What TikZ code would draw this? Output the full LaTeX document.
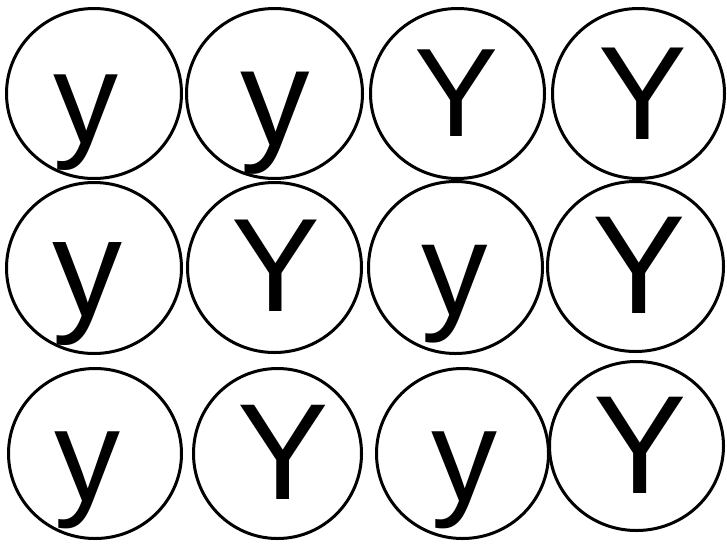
\documentclass[tikz,border=0pt]{standalone}
\usepackage{fontspec}
\setmainfont{Liberation Sans}
\usetikzlibrary{shapes.geometric}
\tikzset{
  ring/.style={draw=black, line width=3pt, ellipse, inner sep=0pt, fill=white},
  glyph/.style={anchor=north, inner sep=0pt, outer sep=0pt, text=black}
}
\newcommand{\glyphsize}[1]{\fontsize{#1}{#1}\selectfont}
\begin{document}
\begin{tikzpicture}[x=1pt,y=-1pt]
\useasboundingbox (0,0) rectangle (727,544);
% row 1
\node[ring, minimum width=175pt, minimum height=170pt] (c11) at (94,93.5) {};
\node[ring, minimum width=176pt, minimum height=170pt] (c12) at (274.5,93.5) {};
\node[ring, minimum width=174pt, minimum height=170pt] (c13) at (457.5,93.5) {};
\node[ring, minimum width=172pt, minimum height=170pt] (c14) at (638.5,93.5) {};
% row 2
\node[ring, minimum width=175pt, minimum height=171pt] (c21) at (94,268) {};
\node[ring, minimum width=174pt, minimum height=170pt] (c22) at (274.5,267.5) {};
\node[ring, minimum width=174pt, minimum height=172pt] (c23) at (455.5,267.5) {};
\node[ring, minimum width=176pt, minimum height=170pt] (c24) at (635.5,266.5) {};
% row 3
\node[ring, minimum width=173pt, minimum height=170pt] (c31) at (95,453.5) {};
\node[ring, minimum width=168pt, minimum height=170pt] (c32) at (277.5,453.5) {};
\node[ring, minimum width=172pt, minimum height=170pt] (c33) at (462.5,453.5) {};
\node[ring, minimum width=174pt, minimum height=169pt] (c34) at (636.5,446) {};
% letters
\node[glyph, font=\glyphsize{130}] (l11) at (86,75) {y};
\node[glyph, font=\glyphsize{139}] (l12) at (275,72) {y};
\node[glyph, font=\glyphsize{126}] (l13) at (457,50) {Y};
\node[glyph, font=\glyphsize{133}] (l14) at (643,48) {Y};
\node[glyph, font=\glyphsize{140}] (l21) at (87.5,243) {y};
\node[glyph, font=\glyphsize{133}] (l22) at (276,220) {Y};
\node[glyph, font=\glyphsize{133}] (l23) at (455,245) {y};
\node[glyph, font=\glyphsize{140}] (l24) at (639,217) {Y};
\node[glyph, font=\glyphsize{132}] (l31) at (87,432) {y};
\node[glyph, font=\glyphsize{137}] (l32) at (283,405) {Y};
\node[glyph, font=\glyphsize{132}] (l33) at (464,432) {y};
\node[glyph, font=\glyphsize{140}] (l34) at (640,397) {Y};
\end{tikzpicture}
\end{document}
